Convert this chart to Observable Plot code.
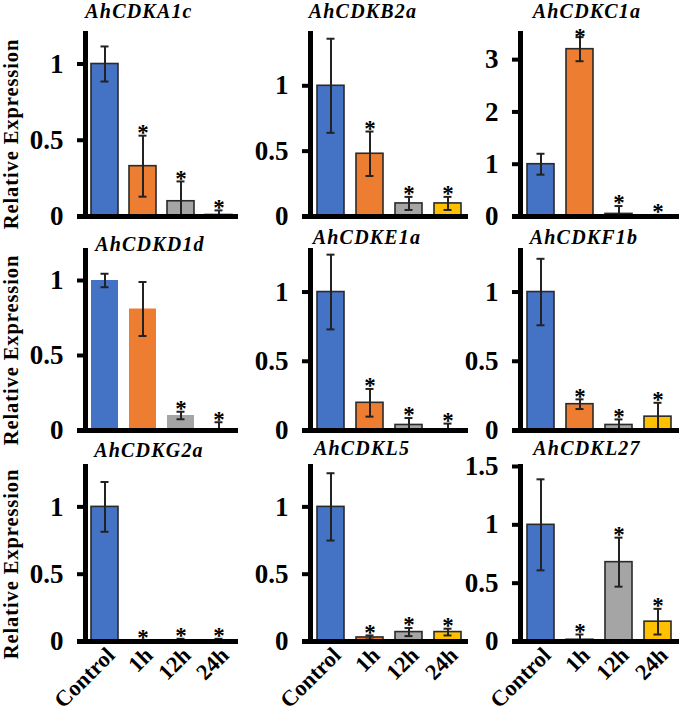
<!DOCTYPE html>
<html>
<head>
<meta charset="utf-8">
<script src="https://cdn.jsdelivr.net/npm/d3@7"></script>
<script src="https://cdn.jsdelivr.net/npm/@observablehq/plot@0.6"></script>
<style>
  html, body { margin: 0; padding: 0; background: #fff; }
  #fig { position: relative; width: 685px; height: 716px; overflow: hidden; font-family: "Liberation Serif", "Times New Roman", serif; color: #000; }
  .panel { position: absolute; }
  .title { position: absolute; font-weight: bold; font-style: italic; font-size: 20px; line-height: 14px; letter-spacing: 1.2px; white-space: nowrap; transform: translateX(-50%); }
  .ylab { position: absolute; font-weight: bold; font-size: 20.5px; line-height: 21px; letter-spacing: 0.9px; white-space: nowrap; transform: translate(-50%, -50%) rotate(-90deg); }
</style>
</head>
<body>
<div id="fig"></div>
<script>
// ---- data ----
const treatments = ["Control", "1h", "12h", "24h"];
const barColors = ["#4472C4", "#ED7D31", "#A5A5A5", "#FFC000"];
const genes = ["AhCDKA1c", "AhCDKB2a", "AhCDKC1a", "AhCDKD1d", "AhCDKE1a", "AhCDKF1b", "AhCDKG2a", "AhCDKL5", "AhCDKL27"];

const meanA1c = [1, 0.33, 0.10, 0.01];   const errA1c = [0.115, 0.20, 0.13, 0.03];  const sigA1c = [0, 1, 1, 1];
const meanB2a = [1, 0.48, 0.10, 0.10];   const errB2a = [0.36, 0.17, 0.05, 0.05];   const sigB2a = [0, 1, 1, 1];
const meanC1a = [1, 3.20, 0.05, 0.01];   const errC1a = [0.20, 0.23, 0.15, 0.02];   const sigC1a = [0, 1, 1, 1];
const meanD1d = [1, 0.81, 0.10, 0.005];  const errD1d = [0.045, 0.18, 0.025, 0.05]; const sigD1d = [0, 0, 1, 1];
const meanE1a = [1, 0.20, 0.04, 0.005];  const errE1a = [0.27, 0.10, 0.05, 0.045];  const sigE1a = [0, 1, 1, 1];
const meanF1b = [1, 0.19, 0.04, 0.10];   const errF1b = [0.24, 0.035, 0.04, 0.10];  const sigF1b = [0, 1, 1, 1];
const meanG2a = [1, 0.003, 0.005, 0.005]; const errG2a = [0.185, 0.006, 0.015, 0.015]; const sigG2a = [0, 1, 1, 1];
const meanL5  = [1, 0.03, 0.07, 0.07];   const errL5  = [0.25, 0.015, 0.03, 0.025]; const sigL5  = [0, 1, 1, 1];
const meanL27 = [1, 0.015, 0.68, 0.17];  const errL27 = [0.39, 0.045, 0.21, 0.11];  const sigL27 = [0, 1, 1, 1];

const yMax = [1.2, 1.4, 3.5, 1.2, 1.3, 1.3, 1.3, 1.3, 1.5];
const yTicks = [[0, 0.5, 1], [0, 0.5, 1], [0, 1, 2, 3], [0, 0.5, 1], [0, 0.5, 1], [0, 0.5, 1], [0, 0.5, 1], [0, 0.5, 1], [0, 0.5, 1, 1.5]];
const outlined = [true, true, true, false, true, true, true, true, true];
const yLabel = "Relative Expression";

const means = [meanA1c, meanB2a, meanC1a, meanD1d, meanE1a, meanF1b, meanG2a, meanL5, meanL27];
const errs  = [errA1c, errB2a, errC1a, errD1d, errE1a, errF1b, errG2a, errL5, errL27];
const sigs  = [sigA1c, sigB2a, sigC1a, sigD1d, sigE1a, sigF1b, sigG2a, sigL5, sigL27];

// ---- layout (pixels) ----
const colAxisX = [85, 310, 520];
const colRight = [238, 468, 679];
const rowTop = [33, 250, 466];
const rowZero = [216, 430, 641];
const titleCX = [139, 363, 587, 150, 367, 584, 149, 362, 587];
const titleBase = [18, 18, 18, 251, 244, 244, 457, 455, 455];
const ylabCY = [134, 350, 564];

const fig = document.getElementById("fig");
const mL = 80, mR = 4, mT = 22;
const serif = "Liberation Serif, Times New Roman, serif";

genes.forEach((g, i) => {
  const r = Math.floor(i / 3), c = i % 3;
  const data = treatments.map((t, k) => ({t, v: means[i][k], e: errs[i][k], s: sigs[i][k]}));
  const nearTop = d => d.v + d.e > 0.95 * yMax[i];
  const plotH = rowZero[r] - rowTop[r];
  const plotW = colRight[c] - colAxisX[c];
  const mB = r === 2 ? 75 : 6;
  const starOpts = {x: "t", y: d => d.v + d.e, text: () => "*", fontSize: 23, fontFamily: serif, fontWeight: "bold", fill: "#000"};
  const chart = Plot.plot({
    width: mL + plotW + mR,
    height: mT + plotH + mB,
    marginLeft: mL, marginRight: mR, marginTop: mT, marginBottom: mB,
    style: {background: "transparent", overflow: "visible", fontFamily: serif, color: "#000"},
    x: {domain: treatments, paddingInner: 0.3, paddingOuter: 0.15, axis: null},
    y: {domain: [0, yMax[i]], axis: null},
    color: {domain: treatments, range: barColors},
    marks: [
      Plot.barY(data, {x: "t", y: "v", fill: "t", stroke: outlined[i] ? "#2a2a2a" : "none", strokeWidth: 1.6}),
      Plot.ruleX(data, {x: "t", y1: d => Math.max(0, d.v - d.e), y2: d => d.v + d.e, stroke: "#222", strokeWidth: 2}),
      Plot.tickY(data, {x: "t", y: d => d.v + d.e, stroke: "#222", strokeWidth: 2, insetLeft: 9.5, insetRight: 9.5}),
      Plot.tickY(data.filter(d => d.v - d.e > 0), {x: "t", y: d => d.v - d.e, stroke: "#222", strokeWidth: 2, insetLeft: 9.5, insetRight: 9.5}),
      Plot.text(data.filter(d => d.s && !nearTop(d)), {...starOpts, dy: -3}),
      Plot.text(data.filter(d => d.s && nearTop(d)), {...starOpts, dy: -1}),
      Plot.axisY({ticks: yTicks[i], tickSize: 8, tickPadding: 14, strokeWidth: 4, fontSize: 27, fontWeight: "bold", tickFormat: d => String(d), label: null}),
      ...(r === 2 ? [Plot.axisX({tickSize: 0, tickPadding: 10, tickRotate: -45, fontSize: 22.5, fontWeight: "bold", label: null, dx: 6})] : []),
      Plot.frame({anchor: "left", strokeWidth: 5, stroke: "#000"}),
      Plot.ruleY([0], {stroke: "#000", strokeWidth: 5, insetLeft: -8})
    ]
  });
  const wrap = document.createElement("div");
  wrap.className = "panel";
  wrap.style.left = (colAxisX[c] - mL) + "px";
  wrap.style.top = (rowTop[r] - mT) + "px";
  wrap.appendChild(chart);
  fig.appendChild(wrap);

  const tt = document.createElement("div");
  tt.className = "title";
  tt.textContent = g;
  tt.style.left = titleCX[i] + "px";
  tt.style.top = (titleBase[i] - 13.75) + "px";
  fig.appendChild(tt);
});

ylabCY.forEach(cy => {
  const yl = document.createElement("div");
  yl.className = "ylab";
  yl.textContent = yLabel;
  yl.style.left = "11px";
  yl.style.top = cy + "px";
  fig.appendChild(yl);
});
</script>
</body>
</html>
